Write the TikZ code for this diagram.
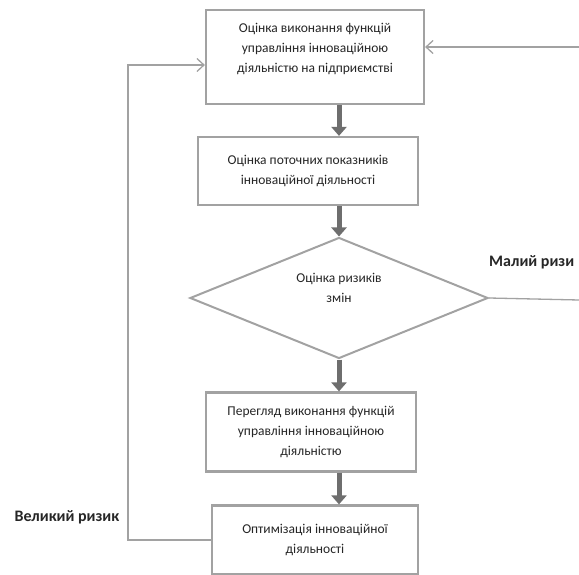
\documentclass[tikz,border=0pt]{standalone}
\usepackage{fontspec}
\setmainfont{Carlito}
\usepackage{tikz}
\usetikzlibrary{shapes.geometric,arrows.meta}
\definecolor{boxgray}{HTML}{A2A2A2}
\definecolor{arrowgray}{HTML}{6E6E6E}
\definecolor{txt}{HTML}{262626}

\begin{document}
\begin{tikzpicture}[x=1pt, y=-1pt,
	box/.style={draw=boxgray, line width=2.2pt, fill=white, align=center, text=txt, inner sep=0pt, font=\fontsize{13.5}{20}\selectfont},
	choice/.style={diamond, aspect=2.4, draw=boxgray, line width=2pt, align=center, text=txt, inner sep=0pt, font=\fontsize{13.5}{20}\selectfont},
	bigarrow/.style={draw=arrowgray, line width=5pt, -{Triangle[length=9pt, width=15pt]}},
	thinarrow/.style={draw=boxgray, line width=1.3pt, -{Straight Barb[length=7pt, width=13pt]}},
	label/.style={text=txt, inner sep=0pt, font=\fontsize{16}{20}\selectfont\bfseries}]
	\useasboundingbox (0,0) rectangle (579,575);

	\node[box, minimum width=218pt, minimum height=94pt] (eval) at (315,57) {Оцінка виконання функцій\\ управління інноваційною\\ діяльністю на підприємстві\\[-7pt] \strut};
	\node[box, minimum width=220pt, minimum height=68pt] (current) at (308,171) {Оцінка поточних показників\\ інноваційної діяльності};
	\node[choice, minimum width=298pt, minimum height=121pt] (risk) at (339,298) {Оцінка ризиків\\ змін\\[-5pt] \strut};
	\node[box, minimum width=210pt, minimum height=79pt] (review) at (311,432) {Перегляд виконання функцій\\ управління інноваційною\\ діяльністю};
	\node[box, minimum width=206pt, minimum height=69pt] (optim) at (315,540) {Оптимізація інноваційної\\ діяльності};

	\node[label, anchor=west] (small) at (489,262) {Малий ризи};
	\node[label] (big) at (67,517) {Великий ризик};
	\coordinate (feedin) at (579,47);
	\coordinate (smallout) at (579,300);

	\draw[bigarrow] (eval.south -| risk.north) -- (current.north -| risk.north);
	\draw[bigarrow] (current.south -| risk.north) -- (risk.north);
	\draw[bigarrow] (risk.south) -- (review.north -| risk.south);
	\draw[bigarrow] (review.south -| risk.south) -- (optim.north -| risk.south);

	\draw[thinarrow] (optim.west) -- ++(-83,0) |- ([yshift=-8pt]eval.west);
	\draw[thinarrow] (feedin) -- (feedin -| eval.east);
	\draw[draw=boxgray, line width=1.3pt] (risk.east) -- (smallout);
\end{tikzpicture}
\end{document}
